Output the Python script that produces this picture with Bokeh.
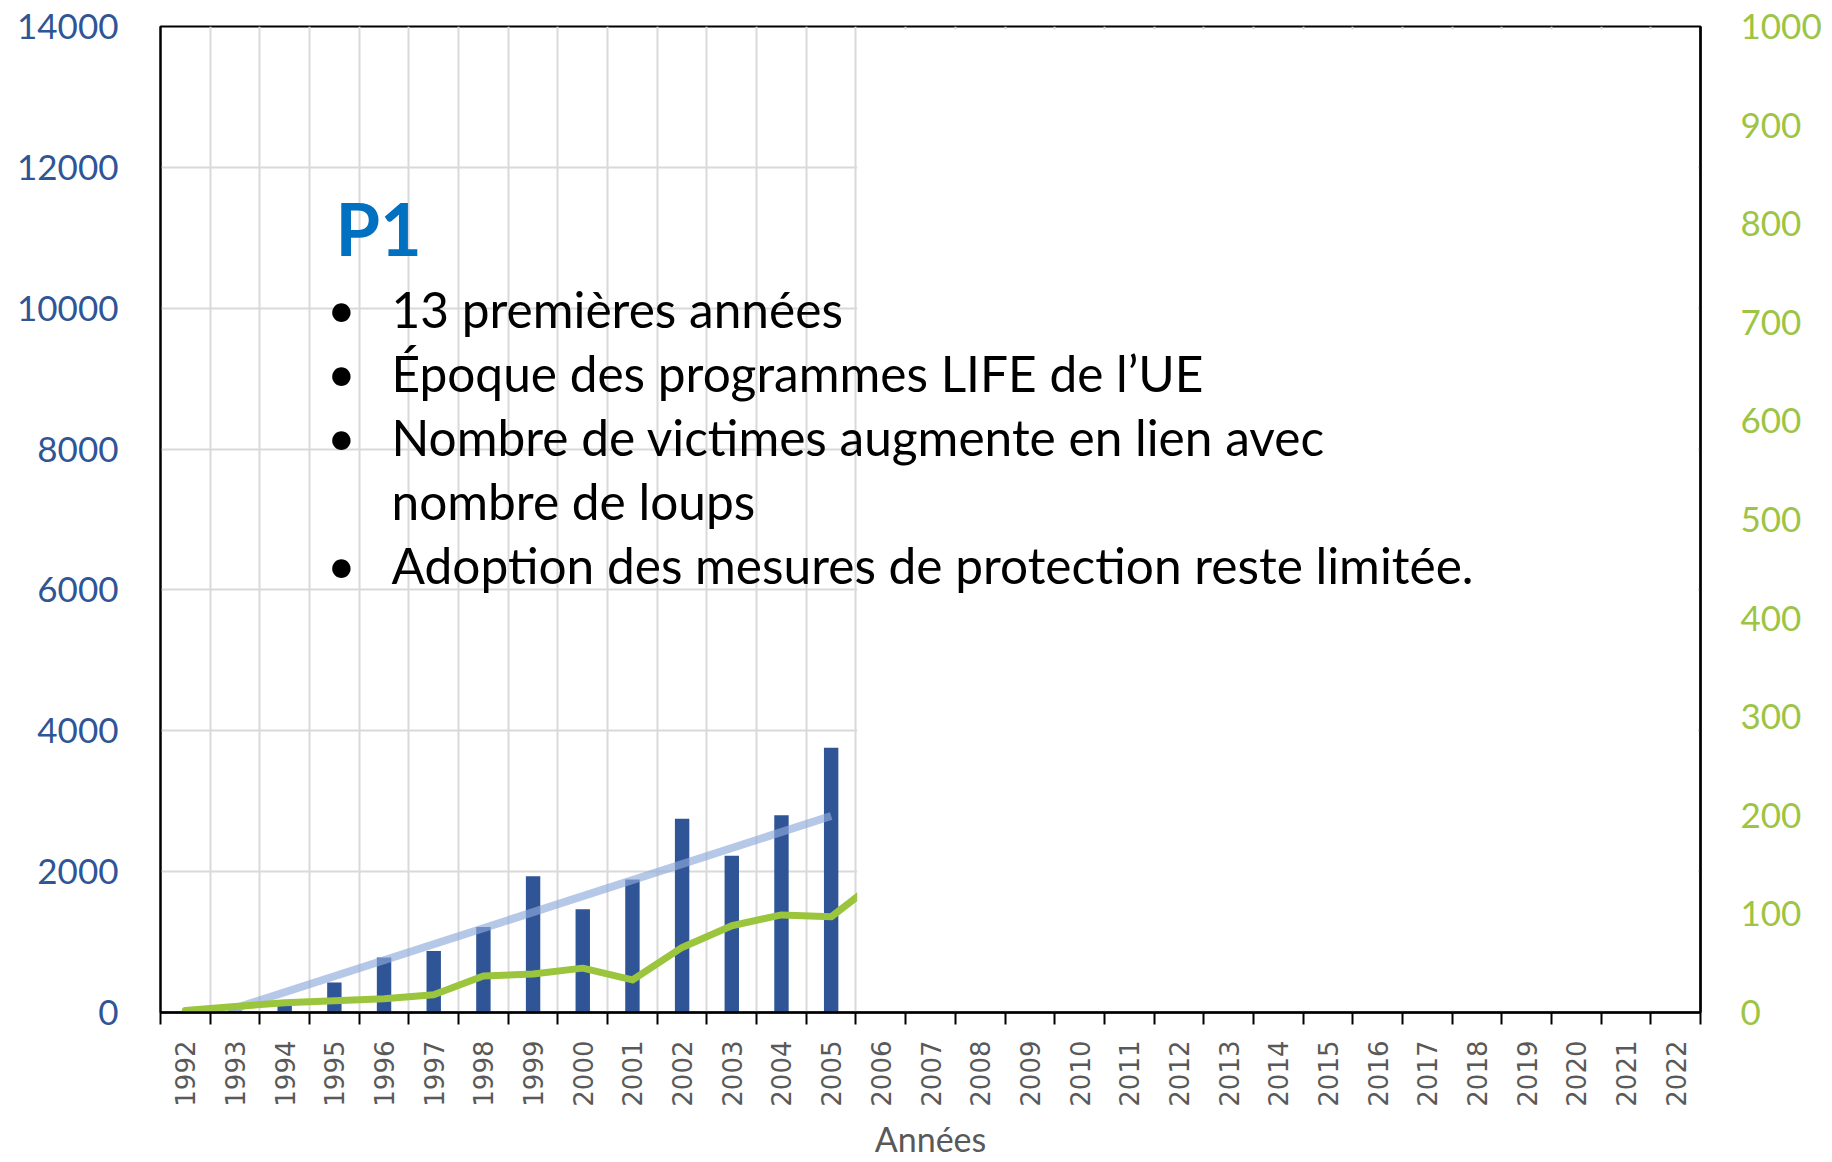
import math
from bokeh.plotting import figure
from bokeh.models import Range1d, LinearAxis, FixedTicker, BoxAnnotation, Label
from bokeh.embed import file_html
from bokeh.resources import INLINE

# ---------------- data ----------------
years = ["1992", "1993", "1994", "1995", "1996", "1997", "1998", "1999", "2000",
         "2001", "2002", "2003", "2004", "2005", "2006", "2007", "2008", "2009",
         "2010", "2011", "2012", "2013", "2014", "2015", "2016", "2017", "2018",
         "2019", "2020", "2021", "2022"]
victim_years = ["1992", "1993", "1994", "1995", "1996", "1997", "1998", "1999",
                "2000", "2001", "2002", "2003", "2004", "2005"]
victims = [0, 30, 175, 425, 780, 875, 1215, 1935, 1465, 1890, 2750, 2225, 2800, 3760]
wolf_years = ["1992", "1993", "1994", "1995", "1996", "1997", "1998", "1999",
              "2000", "2001", "2002", "2003", "2004", "2005", "2006"]
wolves = [2, 6, 10, 12, 14, 18, 37, 39, 45, 33, 66, 88, 99, 97, 136]
trend_years = ["1993", "2005"]
trend_values = [60, 2790]
left_ticks = [0, 2000, 4000, 6000, 8000, 10000, 12000, 14000]
right_ticks = [0, 100, 200, 300, 400, 500, 600, 700, 800, 900, 1000]
reveal_from = "2006"   # part of the chart still hidden (white cover)

title_text = "P1"
bullets = ["13 premières années",
           "Époque des programmes LIFE de l’UE",
           "Nombre de victimes augmente en lien avec",
           "Adoption des mesures de protection reste limitée."]
bullet_cont = "nombre de loups"
x_title = "Années"

# ---------------- styling ----------------
BLUE = "#2F5597"
GREEN = "#9BC53D"
GREEN_TXT = "#9DC444"
GRID = "#D9D9D9"
GRAY = "#595959"
FONT = "Lato"
BODY_FS = 49.6

W, H = 1830, 1162
FL, FR, FT, FB = 160, 1700, 26, 1012   # frame edges on the page

xc = [int(y) for y in years]
bounds = [c - 0.5 for c in xc] + [xc[-1] + 0.5]

p = figure(width=W, height=H,
           x_range=Range1d(xc[0] - 0.5, xc[-1] + 0.5),
           y_range=Range1d(left_ticks[0], left_ticks[-1]),
           output_backend="svg", toolbar_location=None,
           min_border_left=FL, min_border_right=W - FR,
           min_border_top=FT, min_border_bottom=H - FB)
p.extra_y_ranges = {"right": Range1d(right_ticks[0], right_ticks[-1])}
p.background_fill_color = "white"
p.border_fill_color = "white"
p.outline_line_color = "black"
p.outline_line_width = 2

# x axis
xt = FixedTicker(ticks=xc, minor_ticks=bounds)
xa = p.xaxis[0]
xa.ticker = xt
xa.major_label_overrides = {c: y for c, y in zip(xc, years)}
xa.major_label_orientation = math.pi / 2
xa.major_label_text_font = "DejaVu Sans"
xa.major_label_text_font_size = "26px"
xa.major_label_text_color = GRAY
xa.major_tick_line_color = None
xa.major_tick_out = 12
xa.major_tick_in = 0
xa.major_label_standoff = 16
xa.minor_tick_line_color = "black"
xa.minor_tick_line_width = 2
xa.minor_tick_out = 12
xa.minor_tick_in = 0
xa.axis_line_color = "black"
xa.axis_line_width = 2.5
xa.axis_label = x_title
xa.axis_label_text_font = FONT
xa.axis_label_text_font_size = "34px"
xa.axis_label_text_font_style = "normal"
xa.axis_label_text_color = GRAY
xa.axis_label_standoff = 8

# left axis
lt = FixedTicker(ticks=left_ticks)
ya = p.yaxis[0]
ya.ticker = lt
ya.major_label_text_font = FONT
ya.major_label_text_font_size = "35px"
ya.major_label_text_color = BLUE
ya.major_tick_line_color = None
ya.minor_tick_line_color = None
ya.major_tick_out = 0
ya.major_label_standoff = 42
ya.axis_line_color = "black"
ya.axis_line_width = 2

# right axis
ra = LinearAxis(y_range_name="right", ticker=FixedTicker(ticks=right_ticks))
ra.major_label_text_font = FONT
ra.major_label_text_font_size = "35px"
ra.major_label_text_color = GREEN_TXT
ra.major_tick_line_color = None
ra.minor_tick_line_color = None
ra.major_tick_out = 0
ra.major_label_standoff = 40
ra.axis_line_color = "black"
ra.axis_line_width = 2.5
p.add_layout(ra, "right")

# grids
p.ygrid.ticker = lt
p.ygrid.grid_line_color = GRID
p.ygrid.grid_line_width = 2
p.xgrid.ticker = xt
p.xgrid.grid_line_color = None
p.xgrid.minor_grid_line_color = GRID
p.xgrid.minor_grid_line_width = 2

# glyphs
p.vbar(x=[int(y) for y in victim_years], top=victims, width=0.29,
       fill_color=BLUE, line_color=None)
p.line(x=[int(y) for y in trend_years], y=trend_values, line_color="#8FAADC",
       line_alpha=0.65, line_width=8)
p.line(x=[int(y) for y in wolf_years], y=wolves, y_range_name="right",
       line_color=GREEN, line_width=7, line_join="round", line_cap="round")

# white cover over the not-yet-revealed period
px_x = (p.x_range.end - p.x_range.start) / (FR - FL)
px_y = (left_ticks[-1] - left_ticks[0]) / (FB - FT)
cover = BoxAnnotation(left=int(reveal_from) - 0.5 + 1.2 * px_x,
                      right=p.x_range.end - 2.5 * px_x,
                      bottom=2 * px_y, top=left_ticks[-1] - 3 * px_y,
                      fill_color="white", fill_alpha=1.0, line_color=None)
p.add_layout(cover)

# text block (positions given in page pixels, converted to data units)
def X(px):
    return p.x_range.start + (px - FL) * px_x

def Y(py, fs):
    # alphabetic baseline correction observed for the svg backend
    return (FB - (py - 0.4 * fs)) * px_y

p.add_layout(Label(x=X(335), y=Y(256, 72), text=title_text, text_font=FONT,
                   text_font_style="bold", text_font_size="72px",
                   text_color="#0070C0", text_baseline="alphabetic"))
baselines = [328, 392, 456, 584]
for b, t in zip(baselines, bullets):
    p.add_layout(Label(x=X(341), y=Y(b, BODY_FS), text="•", text_font=FONT,
                       text_font_size=f"{BODY_FS}px", text_color="black",
                       text_align="center", text_baseline="alphabetic"))
    p.add_layout(Label(x=X(391), y=Y(b, BODY_FS), text=t, text_font=FONT,
                       text_font_size=f"{BODY_FS}px", text_color="black",
                       text_baseline="alphabetic"))
p.add_layout(Label(x=X(391), y=Y(520, BODY_FS), text=bullet_cont, text_font=FONT,
                   text_font_size=f"{BODY_FS}px", text_color="black",
                   text_baseline="alphabetic"))

open("out.html", "w").write(file_html(p, INLINE))
